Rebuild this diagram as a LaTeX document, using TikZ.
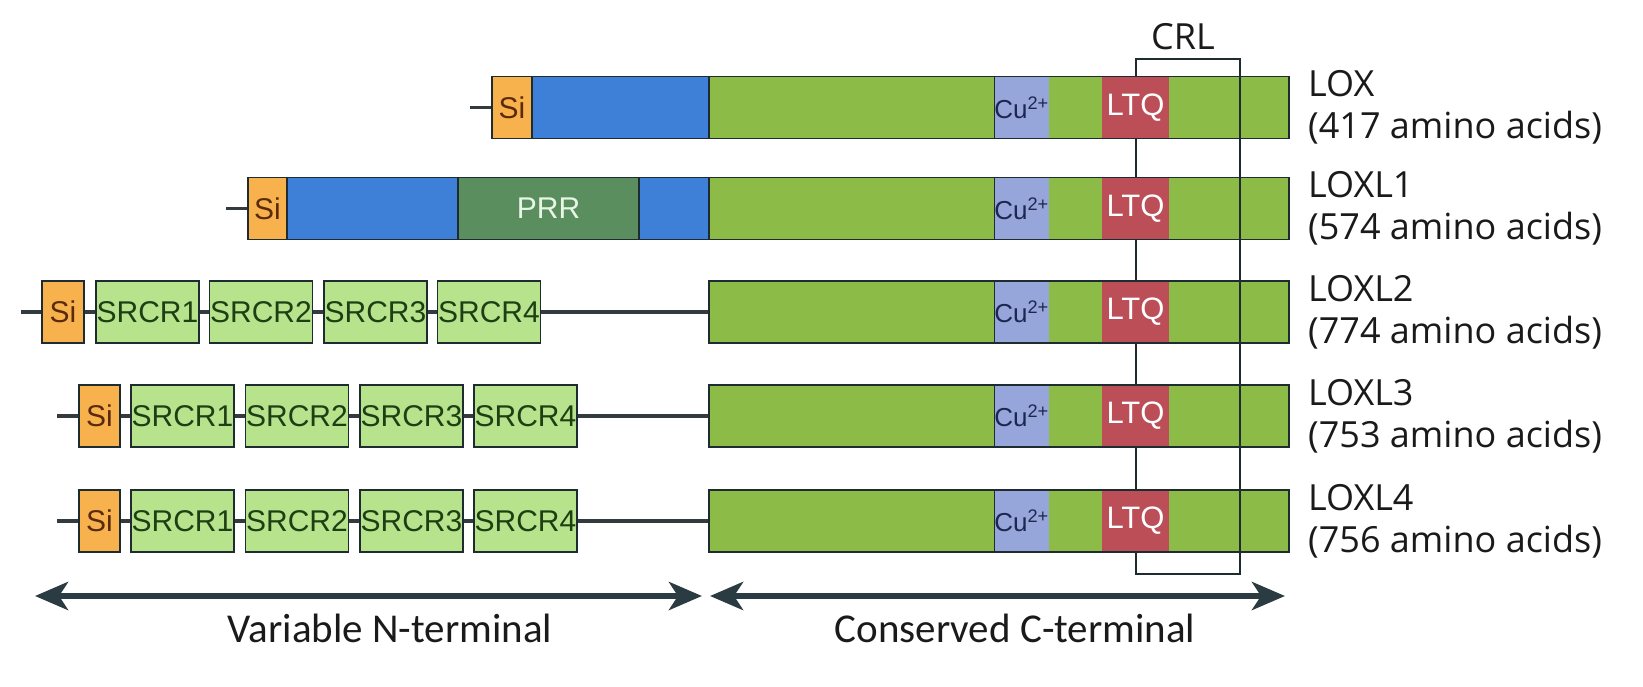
\documentclass[tikz,border=0pt]{standalone}
\usepackage{fontspec}
\setmainfont{Liberation Sans}
\newfontfamily\lblfont{Open Sans}
\newfontfamily\axisfont{Carlito}
\usetikzlibrary{arrows.meta,positioning,backgrounds}
\definecolor{outline}{HTML}{1E2B30}
\definecolor{ink}{HTML}{333B3F}
\definecolor{sigfill}{HTML}{F7B24E}
\definecolor{sigtext}{HTML}{5A2A0A}
\definecolor{nblue}{HTML}{3E7FD8}
\definecolor{prrfill}{HTML}{5B8E5F}
\definecolor{prrtext}{HTML}{E8F6E6}
\definecolor{catfill}{HTML}{8CBB47}
\definecolor{srcrfill}{HTML}{B7E38C}
\definecolor{srcrtext}{HTML}{1E3F14}
\definecolor{cufill}{HTML}{97A6DA}
\definecolor{cutext}{HTML}{1C2650}
\definecolor{ltqfill}{HTML}{BC4E58}
\definecolor{arrowc}{HTML}{2B3B42}
\definecolor{labelc}{HTML}{1A1A1A}
\tikzset{
  % ---- domains ---------------------------------------------------
  dom/.style     = {rectangle, inner sep=0pt, outer sep=0pt,
                    minimum height=62pt},
  sig/.style     = {dom, draw=outline, line width=1.6pt, fill=sigfill,
                    text=sigtext, font=\fontsize{30}{32}\selectfont},
  srcr/.style    = {dom, draw=outline, line width=1.6pt, fill=srcrfill,
                    text=srcrtext, minimum width=103pt,
                    font=\fontsize{30}{32}\selectfont},
  nterm/.style   = {dom, draw=outline, line width=1.6pt, fill=nblue},
  prr/.style     = {dom, draw=outline, line width=1.6pt, fill=prrfill,
                    text=prrtext, font=\fontsize{30}{32}\selectfont},
  cat/.style     = {dom, fill=catfill, minimum width=580pt},
  cu/.style      = {dom, fill=cufill, text=cutext, minimum width=55pt,
                    font=\fontsize{26}{28}\selectfont},
  ltq/.style     = {dom, fill=ltqfill, text=white, minimum width=67pt,
                    font=\fontsize{31}{33}\selectfont},
  rim/.style     = {draw=outline, line width=1.6pt},
  seam/.style    = {draw=outline, line width=0.8pt},
  chain/.style   = {draw=ink, line width=3.5pt},
  % ---- CRL box and labels ----------------------------------------
  crlbox/.style  = {draw=outline, line width=1.6pt, inner sep=0pt,
                    minimum width=104pt, minimum height=515pt},
  crltag/.style  = {font=\lblfont\fontsize{36}{42}\selectfont, text=labelc},
  protlbl/.style = {font=\lblfont\fontsize{36}{42}\selectfont, text=labelc,
                    align=left, inner sep=0pt},
  % ---- terminal spans --------------------------------------------
  span/.style    = {draw=arrowc, line width=6pt,
                    {Stealth[length=33pt,width=28pt,inset=9pt]}-{Stealth[length=33pt,width=28pt,inset=9pt]}},
  axislbl/.style = {font=\axisfont\fontsize{41}{45}\selectfont, text=labelc},
}
\begin{document}
\begin{tikzpicture}[x=1pt,y=-1pt]
  \useasboundingbox (0,0) rectangle (1643,687);
  % LOX
  \coordinate (s0) at (470,107.5);
  \node[sig, minimum width=40pt] (si0) at (512,107.5) {Si};
  \node[nterm, minimum width=177pt, right=0pt of si0] (bl0) {};
  \node[cat] (cat0) at (999,107.5) {};
  % LOXL1
  \coordinate (s1) at (226,208.5);
  \node[sig, minimum width=39pt] (si1) at (267.5,208.5) {Si};
  \node[nterm, minimum width=171pt, right=0pt of si1] (bl1a) {};
  \node[prr, minimum width=181pt, right=0pt of bl1a] (prr1) {PRR};
  \node[nterm, minimum width=70pt, right=0pt of prr1] (bl1b) {};
  \node[cat] (cat1) at (999,208.5) {};
  % LOXL2
  \coordinate (s2) at (21,312);
  \node[sig, minimum width=42pt] (si2) at (63,312) {Si};
  \node[srcr] (sr21) at (147.5,312) {SRCR1};
  \node[srcr, right=10.5pt of sr21] (sr22) {SRCR2};
  \node[srcr, right=11.5pt of sr22] (sr23) {SRCR3};
  \node[srcr, right=10.5pt of sr23] (sr24) {SRCR4};
  \node[cat] (cat2) at (999,312) {};
  % LOXL3
  \coordinate (s3) at (57,416);
  \node[sig, minimum width=41pt] (si3) at (99.5,416) {Si};
  \node[srcr] (sr31) at (182.5,416) {SRCR1};
  \node[srcr, right=11.5pt of sr31] (sr32) {SRCR2};
  \node[srcr, right=11.5pt of sr32] (sr33) {SRCR3};
  \node[srcr, right=11pt of sr33] (sr34) {SRCR4};
  \node[cat] (cat3) at (999,416) {};
  % LOXL4
  \coordinate (s4) at (57,521);
  \node[sig, minimum width=41pt] (si4) at (99.5,521) {Si};
  \node[srcr] (sr41) at (182.5,521) {SRCR1};
  \node[srcr, right=11.5pt of sr41] (sr42) {SRCR2};
  \node[srcr, right=11.5pt of sr42] (sr43) {SRCR3};
  \node[srcr, right=11pt of sr43] (sr44) {SRCR4};
  \node[cat] (cat4) at (999,521) {};
  % backbone lines
  \begin{scope}[on background layer]
    \draw[chain] (s0) -- (si0.west);
    \draw[chain] (s1) -- (si1.west);
    \draw[chain] (s2) -- (cat2.west);
    \draw[chain] (s3) -- (cat3.west);
    \draw[chain] (s4) -- (cat4.west);
  \end{scope}
  % copper sites
  \node[cu] (cu0) at (1021.5,107.5) {Cu\textsuperscript{2+}};
  \node[cu] (cu1) at (1021.5,208.5) {Cu\textsuperscript{2+}};
  \node[cu] (cu2) at (1021.5,312) {Cu\textsuperscript{2+}};
  \node[cu] (cu3) at (1021.5,416) {Cu\textsuperscript{2+}};
  \node[cu] (cu4) at (1021.5,521) {Cu\textsuperscript{2+}};
  \draw[seam] (cu0.north west) -- (cu0.south west);
  \draw[seam] (cu1.north west) -- (cu1.south west);
  \draw[seam] (cu2.north west) -- (cu2.south west);
  \draw[seam] (cu3.north west) -- (cu3.south west);
  \draw[seam] (cu4.north west) -- (cu4.south west);
  % CRL box
  \node[crlbox] (crl) at (1188,316.5) {};
  \node[crltag] (crlt) at (1183,37) {CRL};
  % LTQ
  \node[ltq] (ltq0) at (1135.5,107.5) {LTQ};
  \node[ltq] (ltq1) at (1135.5,208.5) {LTQ};
  \node[ltq] (ltq2) at (1135.5,312) {LTQ};
  \node[ltq] (ltq3) at (1135.5,416) {LTQ};
  \node[ltq] (ltq4) at (1135.5,521) {LTQ};
  % outlines of catalytic domains
  \draw[rim] (cat0.north west) rectangle (cat0.south east);
  \draw[rim] (cat1.north west) rectangle (cat1.south east);
  \draw[rim] (cat2.north west) rectangle (cat2.south east);
  \draw[rim] (cat3.north west) rectangle (cat3.south east);
  \draw[rim] (cat4.north west) rectangle (cat4.south east);
  % names
  \node[protlbl, right=19pt of cat0] (n0) {LOX\\(417 amino acids)};
  \node[protlbl, right=19pt of cat1] (n1) {LOXL1\\(574 amino acids)};
  \node[protlbl, right=19pt of cat2] (n2) {LOXL2\\(774 amino acids)};
  \node[protlbl, right=19pt of cat3] (n3) {LOXL3\\(753 amino acids)};
  \node[protlbl, right=19pt of cat4] (n4) {LOXL4\\(756 amino acids)};
  % terminal spans
  \coordinate (nl) at (35,596);
  \coordinate (nr) at (702,596);
  \coordinate (cl) at (710,596);
  \coordinate (cr) at (1285,596);
  \draw[span] (nl) -- (nr);
  \draw[span] (cl) -- (cr);
  \node[axislbl] (ntag) at (390,628) {Variable N-terminal};
  \node[axislbl] (ctag) at (1015,628) {Conserved C-terminal};
\end{tikzpicture}
\end{document}
